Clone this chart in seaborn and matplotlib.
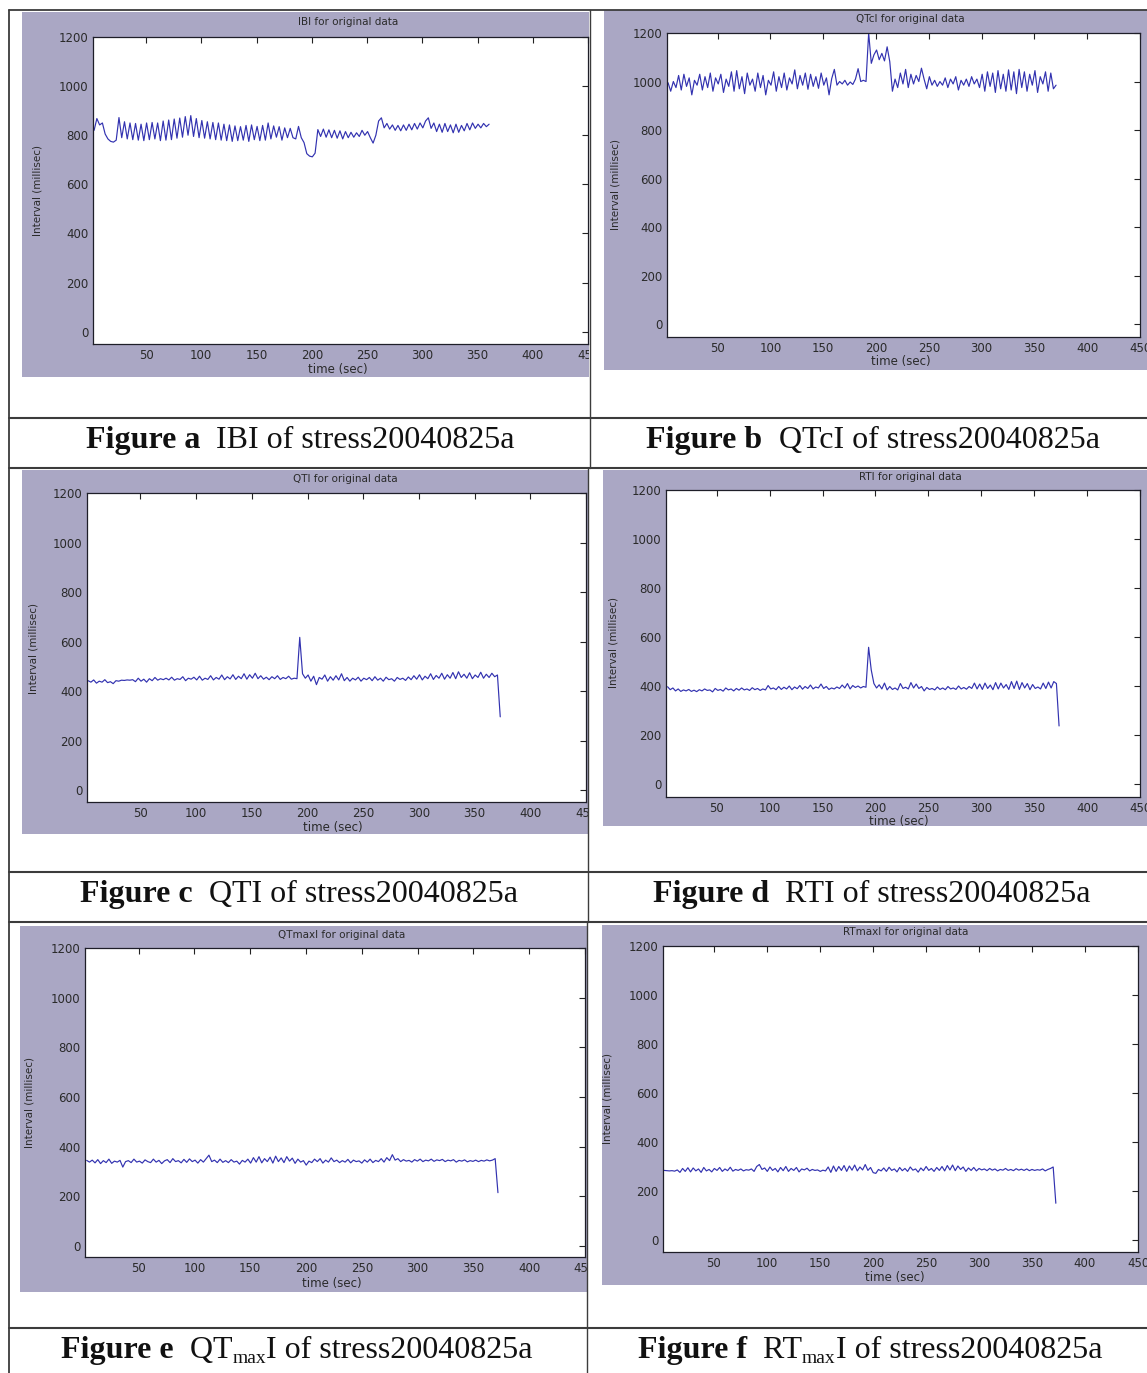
import numpy as np
import matplotlib
matplotlib.use("Agg")
import matplotlib.pyplot as plt
import seaborn as sns
from matplotlib.patches import Rectangle
from matplotlib.lines import Line2D
from matplotlib.transforms import Bbox, TransformedBbox

# ---- interval series (millisec), sampled evenly over each recording ----
ibi = [820, 868, 842, 850, 805, 785, 775, 772, 780, 872, 790, 855, 785, 850, 782, 848,
       780, 845, 778, 850, 782, 852, 785, 850, 778, 858, 780, 862, 782, 866, 788, 870,
       792, 876, 800, 880, 795, 868, 790, 860, 788, 855, 785, 852, 782, 850, 780, 845,
       778, 842, 775, 838, 778, 835, 780, 840, 775, 842, 782, 836, 778, 840, 780, 850,
       785, 838, 792, 835, 780, 830, 790, 828, 790, 785, 836, 790, 770, 725, 715, 712,
       727, 823, 795, 825, 792, 822, 790, 820, 788, 818, 785, 815, 790, 812, 792, 810,
       795, 820, 800, 815, 790, 768, 800, 858, 871, 830, 848, 825, 842, 820, 840, 818,
       842, 820, 845, 822, 848, 825, 850, 830, 858, 871, 828, 850, 815, 845, 812, 848,
       815, 842, 810, 845, 812, 840, 818, 848, 822, 850, 828, 845, 830, 848, 835, 845]
t_ibi = (3.0, 360.5)

qtci = [995, 960, 1000, 975, 1025, 965, 1030, 980, 1015, 945, 1005, 985, 1030, 965, 1020, 975,
        1035, 960, 1015, 990, 1030, 955, 1010, 980, 1040, 960, 1045, 970, 1020, 950, 1035, 985,
        1010, 960, 1035, 975, 1025, 945, 1005, 985, 1040, 960, 1020, 975, 1035, 965, 1015, 990,
        1048, 970, 1025, 985, 1035, 968, 1030, 980, 1020, 972, 1035, 985, 1015, 945, 1012, 1050,
        985, 1000, 990, 1005, 985, 998, 988, 1010, 1053, 1000, 1005, 1000, 1200, 1075, 1110, 1130,
        1090, 1116, 1085, 1143, 1082, 960, 1010, 975, 1035, 990, 1050, 975, 1030, 990, 1025, 1000,
        1055, 1010, 970, 1020, 985, 1005, 980, 1000, 985, 1015, 975, 1010, 990, 1020, 965, 1005,
        985, 1010, 980, 1020, 990, 1010, 975, 1030, 960, 1040, 980, 1035, 955, 1045, 970, 1030,
        960, 1048, 965, 1040, 950, 1050, 975, 1040, 960, 1030, 985, 1045, 955, 1020, 990, 1040,
        960, 1035, 970, 985]
t_qtci = (3.0, 370.5)

qti = [442, 436, 445, 432, 440, 436, 446, 434, 438, 430, 442, 440, 444, 443, 445, 444,
       446, 438, 452, 440, 448, 436, 450, 442, 455, 444, 450, 446, 452, 445, 456, 444,
       450, 447, 458, 442, 452, 448, 456, 445, 460, 444, 452, 447, 462, 445, 455, 448,
       465, 446, 458, 449, 466, 447, 460, 450, 470, 448, 466, 452, 472, 450, 462, 448,
       456, 446, 458, 450, 462, 447, 455, 450, 460, 448, 452, 450, 617, 470, 452, 465,
       440, 460, 426, 455, 448, 465, 440, 458, 444, 462, 445, 470, 442, 455, 440, 452,
       445, 456, 440, 452, 446, 455, 442, 458, 444, 452, 440, 456, 446, 450, 440, 455,
       447, 452, 443, 457, 446, 462, 448, 466, 445, 460, 450, 470, 447, 463, 452, 472,
       448, 466, 452, 475, 450, 478, 455, 468, 452, 474, 450, 465, 455, 476, 452, 468,
       455, 472, 458, 465, 296]
t_qti = (3.0, 373.0)

rti = [397, 385, 392, 380, 388, 378, 384, 380, 386, 378, 383, 377, 385, 380, 388, 382,
       384, 376, 390, 382, 386, 379, 392, 384, 388, 380, 390, 383, 392, 384, 388, 382,
       393, 385, 390, 382, 388, 384, 402, 388, 392, 385, 398, 386, 395, 388, 400, 385,
       396, 389, 402, 387, 398, 390, 404, 388, 396, 392, 408, 390, 398, 386, 392, 388,
       396, 390, 404, 392, 410, 388, 402, 394, 400, 392, 398, 395, 558, 465, 410, 392,
       405, 388, 412, 384, 398, 386, 392, 384, 410, 390, 395, 388, 414, 392, 408, 390,
       398, 380, 394, 386, 390, 384, 396, 386, 392, 385, 398, 388, 392, 386, 400, 388,
       394, 387, 398, 390, 412, 388, 408, 386, 412, 390, 404, 385, 414, 388, 412, 392,
       406, 386, 418, 390, 420, 386, 414, 392, 410, 385, 406, 390, 396, 388, 412, 390,
       416, 392, 418, 410, 237]
t_rti = (3.5, 373.5)

qtmax = [345, 338, 346, 335, 348, 332, 344, 336, 350, 333, 342, 338, 345, 318, 340, 344,
         336, 350, 338, 342, 334, 347, 340, 336, 350, 338, 345, 332, 343, 348, 336, 352,
         340, 344, 335, 349, 337, 351, 340, 346, 334, 348, 338, 352, 366, 340, 346, 336,
         350, 337, 344, 336, 348, 338, 342, 330, 345, 338, 350, 334, 356, 338, 360, 335,
         352, 340, 358, 334, 362, 340, 355, 336, 360, 342, 354, 333, 350, 338, 344, 326,
         342, 336, 350, 340, 352, 334, 346, 338, 355, 340, 346, 336, 344, 338, 349, 335,
         346, 340, 343, 334, 347, 338, 350, 336, 345, 340, 352, 338, 356, 344, 368, 346,
         352, 340, 348, 342, 345, 338, 348, 342, 350, 340, 346, 343, 350, 341, 347, 344,
         349, 340, 346, 343, 348, 338, 345, 342, 347, 339, 344, 341, 346, 340, 345, 342,
         347, 343, 346, 352, 215]
t_qtmax = (3.5, 372.0)

rtmax = [284, 283, 282, 283, 281, 286, 276, 292, 280, 295, 278, 294, 282, 290, 276, 296,
         282, 288, 278, 292, 284, 296, 280, 290, 283, 297, 281, 288, 284, 290, 282, 287,
         285, 290, 280, 300, 308, 288, 294, 280, 298, 284, 292, 278, 296, 283, 300, 280,
         292, 284, 296, 278, 290, 286, 293, 282, 288, 284, 286, 280, 285, 282, 298, 276,
         302, 280, 300, 284, 304, 280, 302, 285, 306, 282, 298, 286, 308, 284, 296, 275,
         272, 288, 282, 294, 280, 297, 284, 290, 278, 296, 283, 292, 280, 298, 285, 290,
         277, 294, 283, 300, 284, 292, 280, 296, 284, 300, 282, 304, 286, 306, 283, 302,
         288, 298, 280, 294, 284, 296, 282, 292, 286, 290, 283, 292, 285, 290, 282, 288,
         285, 292, 284, 288, 283, 291, 285, 289, 284, 290, 283, 288, 284, 287, 285, 290,
         282, 288, 292, 298, 150]
t_rtmax = (3.0, 372.5)

titles = ["IBI for original data", "QTcI for original data", "QTI for original data",
          "RTI for original data", "QTmaxI for original data", "RTmaxI for original data"]
# caption pieces: (text, style) where style is "bold", "reg" or "sub"
captions = [
    [("Figure a", "bold"), ("  IBI of stress20040825a", "reg")],
    [("Figure b", "bold"), ("  QTcI of stress20040825a", "reg")],
    [("Figure c", "bold"), ("  QTI of stress20040825a", "reg")],
    [("Figure d", "bold"), ("  RTI of stress20040825a", "reg")],
    [("Figure e", "bold"), ("  QT", "reg"), ("max", "sub"), ("I of stress20040825a", "reg")],
    [("Figure f", "bold"), ("  RT", "reg"), ("max", "sub"), ("I of stress20040825a", "reg")],
]
x_ticks = [50, 100, 150, 200, 250, 300, 350, 400, 450]
y_ticks = [0, 200, 400, 600, 800, 1000, 1200]

series = [(ibi, t_ibi), (qtci, t_qtci), (qti, t_qti), (rti, t_rti), (qtmax, t_qtmax), (rtmax, t_rtmax)]

# ---- styling ----
sns.set_theme(style="white")
plt.rcParams["font.family"] = ["DejaVu Sans"]

W, H = 1147, 1373
PANEL = "#aaa7c4"
LINE = "#3232b0"
RULE = "#3c3c3c"

fig = plt.figure(figsize=(W / 100, H / 100), dpi=100)
fig.patch.set_facecolor("white")

# layout in pixel units: grey backdrop, axes box, y-limit floor,
# title centre, x-label centre, y-label centre
panels = [
    dict(grey=(22, 12, 589, 377), box=(93, 37, 588, 344), ymin=-50,
         title=(348, 22), xlab=(338, 369), ylab=(38, 190)),
    dict(grey=(604, 10, 1147, 370), box=(667, 33, 1140, 337), ymin=-53,
         title=(910, 19), xlab=(901, 362), ylab=(616, 185)),
    dict(grey=(22, 470, 588, 834), box=(87, 493, 586, 802), ymin=-48,
         title=(345, 479), xlab=(333, 828), ylab=(33, 648)),
    dict(grey=(603, 470, 1147, 826), box=(666, 490, 1140, 797), ymin=-53,
         title=(910, 477), xlab=(899, 821), ylab=(614, 643)),
    dict(grey=(20, 926, 588, 1292), box=(85, 948, 585, 1257), ymin=-44,
         title=(342, 935), xlab=(332, 1284), ylab=(30, 1103)),
    dict(grey=(602, 925, 1147, 1285), box=(663, 946, 1138, 1252), ymin=-49,
         title=(906, 932), xlab=(895, 1278), ylab=(608, 1098)),
]


def fx(x):
    return x / W


def fy(y):
    return 1 - y / H


axes = []
for spec, (vals, (t0, t1)), title in zip(panels, series, titles):
    x0, y0, x1, y1 = spec["grey"]
    fig.add_artist(Rectangle((fx(x0), fy(y1)), (x1 - x0) / W, (y1 - y0) / H,
                             transform=fig.transFigure, facecolor=PANEL,
                             edgecolor="none", zorder=-5))
    bx0, by0, bx1, by1 = spec["box"]
    ax = fig.add_axes([fx(bx0), fy(by1), (bx1 - bx0) / W, (by1 - by0) / H])
    ax.set_facecolor("white")
    t = np.linspace(t0, t1, len(vals))
    sns.lineplot(x=t, y=np.asarray(vals, dtype=float), ax=ax, color=LINE,
                 linewidth=0.85, estimator=None, sort=False)
    ax.set_xlim(2, 450)
    ax.set_ylim(spec["ymin"], 1200)
    ax.set_xticks(x_ticks)
    ax.set_yticks(y_ticks)
    ax.set_xlabel("")
    ax.set_ylabel("")
    ax.tick_params(direction="in", length=4, width=0.8, top=True, right=True,
                   labelsize=8.5, pad=3.5, color="#222222", labelcolor="#2a2a2a")
    for s in ax.spines.values():
        s.set_color("#1e1e28")
        s.set_linewidth(0.9)
    fig.text(fx(spec["title"][0]), fy(spec["title"][1]), title, ha="center",
             va="center", fontsize=7.5, color="#2a2a2a")
    fig.text(fx(spec["xlab"][0]), fy(spec["xlab"][1]), "time (sec)", ha="center",
             va="center", fontsize=8.5, color="#2a2a2a")
    fig.text(fx(spec["ylab"][0]), fy(spec["ylab"][1]), "Interval (millisec)",
             ha="center", va="center", rotation=90, fontsize=7.5, color="#2a2a2a")
    clip = TransformedBbox(Bbox.from_extents(fx(x0), fy(y1), fx(x1), fy(y0)),
                           fig.transFigure)
    axes.append((ax, clip))

# ---- captions, set piece by piece so the subscript can be smaller ----
CAP_SIZE = 23
SUB_SIZE = 14
cap_pos = [(300, 448), (873, 448), (299, 902), (872, 902), (297, 1358), (870, 1358)]
renderer = fig.canvas.get_renderer()
for (cx, cy), pieces in zip(cap_pos, captions):
    made = []
    for txt, style in pieces:
        kw = dict(family="Liberation Serif", color="#111111", va="baseline", ha="left")
        if style == "bold":
            kw.update(fontsize=CAP_SIZE, fontweight="bold")
            dy = 0
        elif style == "sub":
            kw.update(fontsize=SUB_SIZE)
            dy = 5
        else:
            kw.update(fontsize=CAP_SIZE)
            dy = 0
        tobj = fig.text(0, fy(cy + dy), txt, **kw)
        made.append(tobj)
    widths = [m.get_window_extent(renderer).width for m in made]
    xcur = cx - sum(widths) / 2
    for m, w in zip(made, widths):
        m.set_x(fx(xcur))
        xcur += w

# ---- table rules ----
def rule(xa, ya, xb, yb, lw=1.3):
    fig.add_artist(Line2D([fx(xa), fx(xb)], [fy(ya), fy(yb)], transform=fig.transFigure,
                          color=RULE, linewidth=lw, zorder=5))

rule(9, 10, W, 10)
for yy in (418, 468, 872, 922, 1328):
    rule(9, yy, W, yy, lw=1.5)
rule(9, 10, 9, H)
rule(590, 10, 590, 468, lw=1.0)
rule(588, 468, 588, 922, lw=1.0)
rule(587, 922, 587, H, lw=1.0)

# keep the edge tick labels inside each grey backdrop
fig.canvas.draw()
for ax, clip in axes:
    for lab in ax.get_xticklabels():
        lab.set_clip_box(clip)
        lab.set_clip_on(True)

fig.savefig("out.png", dpi=100, facecolor="white")
